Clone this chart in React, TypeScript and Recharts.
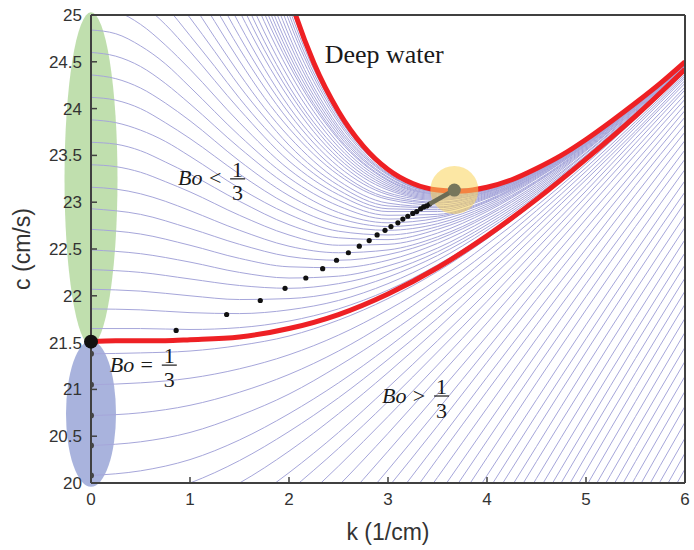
import React from 'react';
import { ComposedChart, Line, Scatter, XAxis, YAxis, ReferenceDot, ReferenceLine, Label } from 'recharts';

const _ = null;

// wavenumber grid shared by the thin dispersion curves (1/cm)
const K = [0, 0.25, 0.5, 0.75, 1, 1.25, 1.5, 1.75, 2, 2.5, 3, 3.5, 4, 4.5, 5, 5.5, 6];

// thin layers, curves coming up through the bottom edge
const SHALLOW = [
  [19.8, _, 19.85, 19.91, 20.0, _, 20.24, _, 20.55, 20.91, 21.32, 21.76, 22.23, 22.73, 23.24, 23.76, 24.3],
  [_, _, _, _, 19.74, _, 20.0, _, 20.34, 20.74, 21.18, 21.65, 22.15, 22.66, 23.18, 23.73, 24.27],
  [_, _, _, _, _, _, 19.73, _, 20.11, 20.54, 21.02, 21.52, 22.04, 22.58, 23.12, 23.68, 24.23],
  [_, _, _, _, _, _, _, _, 19.91, 20.37, 20.87, 21.4, 21.94, 22.5, 23.06, 23.63, 24.2],
  [_, _, _, _, _, _, _, _, 19.68, 20.18, 20.71, 21.26, 21.83, 22.41, 22.99, 23.57, 24.15],
  [_, _, _, _, _, _, _, _, 19.45, 19.97, 20.53, 21.12, 21.71, 22.31, 22.91, 23.51, 24.1],
  [_, _, _, _, _, _, _, _, _, 19.74, 20.34, 20.95, 21.57, 22.2, 22.82, 23.43, 24.04],
  [_, _, _, _, _, _, _, _, _, 19.52, 20.14, 20.78, 21.43, 22.08, 22.72, 23.35, 23.98],
  [_, _, _, _, _, _, _, _, _, 19.31, 19.95, 20.61, 21.29, 21.96, 22.62, 23.27, 23.91],
  [_, _, _, _, _, _, _, _, _, _, 19.74, 20.43, 21.13, 21.82, 22.5, 23.18, 23.83],
  [_, _, _, _, _, _, _, _, _, _, 19.53, 20.26, 20.98, 21.69, 22.39, 23.08, 23.75],
  [_, _, _, _, _, _, _, _, _, _, 19.33, 20.06, 20.8, 21.54, 22.26, 22.97, 23.66],
  [_, _, _, _, _, _, _, _, _, _, _, 19.86, 20.62, 21.38, 22.13, 22.85, 23.56],
  [_, _, _, _, _, _, _, _, _, _, _, 19.67, 20.45, 21.23, 21.99, 22.74, 23.46],
  [_, _, _, _, _, _, _, _, _, _, _, 19.47, 20.27, 21.07, 21.85, 22.61, 23.35],
  [_, _, _, _, _, _, _, _, _, _, _, 19.27, 20.08, 20.89, 21.69, 22.47, 23.23],
  [_, _, _, _, _, _, _, _, _, _, _, _, 19.9, 20.73, 21.54, 22.34, 23.11],
  [_, _, _, _, _, _, _, _, _, _, _, _, 19.73, 20.57, 21.4, 22.21, 23.0],
  [_, _, _, _, _, _, _, _, _, _, _, _, 19.54, 20.39, 21.24, 22.06, 22.86],
  [_, _, _, _, _, _, _, _, _, _, _, _, 19.36, 20.23, 21.08, 21.92, 22.73],
  [_, _, _, _, _, _, _, _, _, _, _, _, 19.17, 20.05, 20.92, 21.77, 22.6],
  [_, _, _, _, _, _, _, _, _, _, _, _, _, 19.88, 20.76, 21.62, 22.46],
  [_, _, _, _, _, _, _, _, _, _, _, _, _, 19.71, 20.6, 21.48, 22.33],
  [_, _, _, _, _, _, _, _, _, _, _, _, _, 19.55, 20.45, 21.33, 22.19],
  [_, _, _, _, _, _, _, _, _, _, _, _, _, 19.38, 20.29, 21.18, 22.05],
  [_, _, _, _, _, _, _, _, _, _, _, _, _, 19.21, 20.13, 21.03, 21.91],
  [_, _, _, _, _, _, _, _, _, _, _, _, _, 19.04, 19.96, 20.87, 21.76],
  [_, _, _, _, _, _, _, _, _, _, _, _, _, _, 19.8, 20.71, 21.61],
  [_, _, _, _, _, _, _, _, _, _, _, _, _, _, 19.63, 20.55, 21.45],
  [_, _, _, _, _, _, _, _, _, _, _, _, _, _, 19.46, 20.39, 21.3],
  [_, _, _, _, _, _, _, _, _, _, _, _, _, _, 19.3, 20.23, 21.14],
  [_, _, _, _, _, _, _, _, _, _, _, _, _, _, 19.12, 20.06, 20.98],
  [_, _, _, _, _, _, _, _, _, _, _, _, _, _, 18.95, 19.89, 20.82],
  [_, _, _, _, _, _, _, _, _, _, _, _, _, _, 18.77, 19.72, 20.65],
  [_, _, _, _, _, _, _, _, _, _, _, _, _, _, 18.6, 19.55, 20.48],
  [_, _, _, _, _, _, _, _, _, _, _, _, _, _, 18.43, 19.38, 20.32],
  [_, _, _, _, _, _, _, _, _, _, _, _, _, _, 18.26, 19.21, 20.15],
];

// Bo > 1/3 curves that start on the c axis
const BO_ABOVE = [
  [21.38, _, 21.39, _, 21.41, _, 21.47, _, 21.57, 21.74, 21.97, 22.26, 22.61, 23.01, 23.45, 23.92, 24.41],
  [21.05, _, 21.07, _, 21.12, _, 21.22, _, 21.37, 21.58, 21.85, 22.17, 22.55, 22.96, 23.41, 23.89, 24.39],
  [20.72, _, 20.75, _, 20.83, _, 20.97, _, 21.16, 21.41, 21.72, 22.08, 22.47, 22.91, 23.37, 23.86, 24.37],
  [20.4, _, 20.44, _, 20.54, _, 20.72, _, 20.95, 21.25, 21.59, 21.97, 22.4, 22.85, 23.33, 23.83, 24.35],
  [20.08, _, 20.13, _, 20.25, _, 20.46, _, 20.74, 21.07, 21.45, 21.87, 22.31, 22.79, 23.28, 23.8, 24.33],
];

// Bo < 1/3 curves that start on the c axis and dip to a minimum
const BO_BELOW = [
  [21.65, _, 21.65, _, 21.64, _, 21.66, _, 21.73, 21.86, 22.06, 22.33, 22.66, 23.05, 23.47, 23.93, 24.42],
  [21.86, _, 21.85, _, 21.82, _, 21.81, _, 21.85, 21.95, 22.13, 22.38, 22.7, 23.07, 23.49, 23.95, 24.43],
  [22.07, _, 22.05, _, 22.0, _, 21.96, _, 21.97, 22.04, 22.2, 22.43, 22.73, 23.09, 23.5, 23.96, 24.44],
  [22.28, _, 22.25, _, 22.18, _, 22.11, _, 22.08, 22.13, 22.26, 22.47, 22.76, 23.11, 23.52, 23.97, 24.45],
  [22.49, _, 22.45, _, 22.36, _, 22.25, _, 22.19, 22.21, 22.32, 22.51, 22.79, 23.13, 23.53, 23.98, 24.45],
  [22.71, _, 22.66, _, 22.54, _, 22.4, _, 22.31, 22.3, 22.38, 22.56, 22.82, 23.15, 23.55, 23.99, 24.46],
  [22.93, _, 22.87, _, 22.72, _, 22.55, _, 22.42, 22.38, 22.44, 22.6, 22.85, 23.17, 23.56, 23.99, 24.46],
  [23.16, 23.14, 23.09, 23.01, 22.91, _, 22.7, _, 22.53, 22.46, 22.49, 22.63, 22.87, 23.19, 23.57, 24.0, 24.47],
  [23.4, 23.38, 23.32, 23.22, 23.11, _, 22.86, _, 22.65, 22.54, 22.55, 22.67, 22.9, 23.21, 23.58, 24.01, 24.47],
  [23.64, 23.62, 23.55, 23.43, 23.3, _, 23.01, _, 22.76, 22.62, 22.6, 22.71, 22.92, 23.22, 23.59, 24.01, 24.48],
  [23.88, 23.85, 23.77, 23.65, 23.49, _, 23.15, _, 22.87, 22.69, 22.65, 22.74, 22.94, 23.23, 23.6, 24.02, 24.48],
  [24.12, 24.09, 24.0, 23.85, 23.68, _, 23.3, _, 22.97, 22.76, 22.7, 22.77, 22.96, 23.25, 23.61, 24.02, 24.48],
  [24.36, 24.32, 24.22, 24.06, 23.87, _, 23.44, _, 23.07, 22.83, 22.74, 22.8, 22.98, 23.26, 23.61, 24.03, 24.48],
  [24.6, 24.56, 24.45, 24.27, 24.05, _, 23.58, _, 23.17, 22.89, 22.78, 22.83, 23.0, 23.27, 23.62, 24.03, 24.49],
  [24.84, 24.8, 24.67, 24.48, 24.23, _, 23.71, _, 23.26, 22.96, 22.82, 22.85, 23.01, 23.28, 23.62, 24.03, 24.49],
];

// deeper layers, curves coming down through the top edge
const DEEPER = [
  [25.08, 25.04, 24.9, 24.68, 24.42, _, 23.85, _, 23.35, 23.02, 22.86, 22.87, 23.02, 23.29, 23.63, 24.04, 24.49],
  [25.34, 25.29, 25.13, 24.9, 24.61, _, 23.99, _, 23.44, 23.08, 22.9, 22.9, 23.04, 23.29, 23.63, 24.04, 24.49],
  [_, _, 25.35, 25.1, 24.78, 24.45, 24.11, 23.8, 23.53, 23.13, 22.93, 22.92, 23.05, 23.3, 23.64, 24.04, 24.49],
  [_, _, _, 25.31, 24.97, 24.61, 24.24, 23.91, 23.61, 23.18, 22.96, 22.94, 23.06, 23.31, 23.64, 24.05, 24.49],
  [_, _, _, 25.52, 25.16, 24.76, 24.37, 24.01, 23.7, 23.23, 22.99, 22.95, 23.07, 23.31, 23.65, 24.05, 24.5],
  [_, _, _, _, 25.36, 24.93, 24.51, 24.12, 23.79, 23.29, 23.03, 22.97, 23.08, 23.32, 23.65, 24.05, 24.5],
  [_, _, _, _, 25.55, 25.09, 24.64, 24.23, 23.87, 23.33, 23.05, 22.99, 23.09, 23.32, 23.65, 24.05, 24.5],
  [_, _, _, _, 25.75, 25.25, 24.77, 24.33, 23.95, 23.38, 23.08, 23.0, 23.1, 23.33, 23.65, 24.05, 24.5],
  [_, _, _, _, 25.94, 25.41, 24.9, 24.43, 24.02, 23.43, 23.1, 23.02, 23.11, 23.33, 23.66, 24.05, 24.5],
  [_, _, _, _, 26.17, 25.59, 25.04, 24.54, 24.11, 23.47, 23.13, 23.03, 23.11, 23.34, 23.66, 24.05, 24.5],
  [_, _, _, _, 26.34, 25.74, 25.16, 24.63, 24.18, 23.51, 23.15, 23.04, 23.12, 23.34, 23.66, 24.05, 24.5],
  [_, _, _, _, 26.54, 25.89, 25.28, 24.72, 24.24, 23.55, 23.17, 23.05, 23.13, 23.34, 23.66, 24.06, 24.5],
  [_, _, _, _, _, 26.07, 25.41, 24.82, 24.32, 23.59, 23.19, 23.06, 23.13, 23.34, 23.66, 24.06, 24.5],
  [_, _, _, _, _, 26.26, 25.56, 24.93, 24.4, 23.63, 23.21, 23.07, 23.14, 23.35, 23.66, 24.06, 24.5],
  [_, _, _, _, _, 26.43, 25.69, 25.02, 24.47, 23.67, 23.23, 23.08, 23.14, 23.35, 23.67, 24.06, 24.5],
  [_, _, _, _, _, 26.57, 25.79, 25.1, 24.52, 23.69, 23.24, 23.09, 23.14, 23.35, 23.67, 24.06, 24.5],
  [_, _, _, _, _, 26.72, 25.9, 25.18, 24.58, 23.72, 23.26, 23.09, 23.15, 23.35, 23.67, 24.06, 24.5],
  [_, _, _, _, _, _, 26.03, 25.27, 24.64, 23.75, 23.27, 23.1, 23.15, 23.35, 23.67, 24.06, 24.5],
  [_, _, _, _, _, _, 26.16, 25.36, 24.71, 23.78, 23.29, 23.11, 23.15, 23.35, 23.67, 24.06, 24.5],
  [_, _, _, _, _, _, 26.32, 25.48, 24.78, 23.81, 23.3, 23.11, 23.15, 23.36, 23.67, 24.06, 24.5],
  [_, _, _, _, _, _, 26.5, 25.59, 24.86, 23.85, 23.31, 23.12, 23.16, 23.36, 23.67, 24.06, 24.5],
  [_, _, _, _, _, _, 26.68, 25.71, 24.94, 23.88, 23.33, 23.12, 23.16, 23.36, 23.67, 24.06, 24.5],
  [_, _, _, _, _, _, 26.88, 25.84, 25.01, 23.91, 23.34, 23.13, 23.16, 23.36, 23.67, 24.06, 24.5],
  [_, _, _, _, _, _, 27.07, 25.95, 25.08, 23.93, 23.34, 23.13, 23.16, 23.36, 23.67, 24.06, 24.5],
  [_, _, _, _, _, _, 27.27, 26.07, 25.15, 23.95, 23.35, 23.13, 23.16, 23.36, 23.67, 24.06, 24.5],
  [_, _, _, _, _, _, 27.46, 26.16, 25.19, 23.96, 23.35, 23.13, 23.16, 23.36, 23.67, 24.06, 24.5],
  [_, _, _, _, _, _, 27.59, 26.22, 25.22, 23.97, 23.35, 23.13, 23.16, 23.36, 23.67, 24.06, 24.5],
];

// red curves
const BO_THIRD = [21.51, 21.52, 21.52, 21.52, 21.53, _, 21.56, _, 21.65, 21.8, 22.02, 22.3, 22.64, 23.03, 23.46, 23.92, 24.42];
const DEEP_K = [1.75, 2, 2.25, 2.5, 2.75, 3, 3.25, 3.5, 3.67, 3.75, 4, 4.25, 4.5, 4.75, 5, 5.25, 5.5, 5.75, 6];
const DEEP_C = [26.23, 25.22, 24.49, 23.97, 23.6, 23.35, 23.2, 23.13, 23.12, 23.12, 23.16, 23.24, 23.36, 23.5, 23.67, 23.86, 24.06, 24.27, 24.5];

// minima of the Bo < 1/3 curves
const MIN_K = [0.86, 1.37, 1.71, 1.96, 2.17, 2.34, 2.48, 2.6, 2.71, 2.81, 2.89, 2.97, 3.03, 3.1, 3.15, 3.2, 3.25, 3.29, 3.33, 3.36, 3.39, 3.42];
const MIN_C = [21.63, 21.8, 21.95, 22.08, 22.19, 22.29, 22.38, 22.46, 22.53, 22.59, 22.65, 22.7, 22.74, 22.78, 22.82, 22.85, 22.88, 22.9, 22.93, 22.95, 22.96, 22.98];
const MIN_PATH_K = [3.42, 3.67];
const MIN_PATH_C = [22.98, 23.13];

// starting speeds of the Bo > 1/3 curves on the axis
const AXIS_DOT_C = [21.38, 21.05, 20.72, 20.4, 20.08];

const X_TICKS = [0, 1, 2, 3, 4, 5, 6];
const Y_TICKS = [20, 20.5, 21, 21.5, 22, 22.5, 23, 23.5, 24, 24.5, 25];

// annotation anchors (k, c)
const TEXT_K = [0.88, 0.19, 2.94];
const TEXT_C = [23.18, 21.19, 20.86];
const TEXT_OP = ['<', '=', '>'];
const DEEP_TEXT = [2.36, 24.49];

const PURPLE = [...SHALLOW, ...BO_ABOVE, ...BO_BELOW, ...DEEPER];

const rows = K.map((k, i) => {
  const r: Record<string, number | null> = { k, bo: BO_THIRD[i] };
  PURPLE.forEach((s, j) => { r['p' + j] = s[i]; });
  return r;
});
const deepRows = DEEP_K.map((k, i) => ({ k, c: DEEP_C[i] }));
const minRows = MIN_K.map((k, i) => ({ k, c: MIN_C[i] }));
const minPath = MIN_PATH_K.map((k, i) => ({ k, c: MIN_PATH_C[i] }));
const axisDots = AXIS_DOT_C.map((c) => ({ k: 0, c }));

const AXIS = '#404040';
const LAVENDER = '#a6a6da';
const RED = '#ee2024';
const SANS = "'Liberation Sans', Arial, sans-serif";

const BoLabel = ({ cx, cy, op }: { cx: number; cy: number; op: string }) => (
  <g fontFamily="'Liberation Serif', 'DejaVu Serif', serif" fontSize={22} fill="#1a1a1a">
    <text x={cx} y={cy} fontStyle="italic">Bo</text>
    <text x={cx + 37} y={cy} textAnchor="middle">{op}</text>
    <line x1={cx + 52} x2={cx + 67} y1={cy - 6.5} y2={cy - 6.5} stroke="#1a1a1a" strokeWidth={1.2} />
    <text x={cx + 59.5} y={cy - 8.5} textAnchor="middle">1</text>
    <text x={cx + 59.5} y={cy + 15} textAnchor="middle">3</text>
  </g>
);

export default function App() {
  return (
    <div style={{ position: 'absolute', left: 0, top: 0, width: 694, height: 550, background: '#fff' }}>
      <ComposedChart width={694} height={550} data={rows} margin={{ top: 14, right: 8, bottom: 0, left: 0 }}>
        <XAxis
          dataKey="k" type="number" domain={[0, 6]} ticks={X_TICKS} allowDataOverflow height={67}
          tickSize={-6} tickMargin={16}
          axisLine={{ stroke: AXIS, strokeWidth: 2 }} tickLine={{ stroke: AXIS, strokeWidth: 1.5 }}
          tick={{ fill: '#333', fontSize: 17, fontFamily: SANS }}
        >
          <Label value="k (1/cm)" position="insideBottom" offset={10}
            style={{ fill: '#333', fontSize: 23, fontFamily: SANS }} />
        </XAxis>
        <XAxis xAxisId="top" dataKey="k" orientation="top" type="number" domain={[0, 6]} ticks={X_TICKS} allowDataOverflow height={1}
          tickSize={-6} tick={false} axisLine={{ stroke: AXIS, strokeWidth: 2 }} tickLine={{ stroke: AXIS, strokeWidth: 1.5 }} />
        <YAxis
          type="number" domain={[20, 25]} ticks={Y_TICKS} allowDataOverflow width={91}
          tickSize={-6} tickMargin={15}
          axisLine={{ stroke: AXIS, strokeWidth: 2 }} tickLine={{ stroke: AXIS, strokeWidth: 1.5 }}
          tick={{ fill: '#333', fontSize: 17, fontFamily: SANS }}
        >
          <Label value="c (cm/s)" angle={-90} position="center" dx={-24}
            style={{ fill: '#333', fontSize: 23, fontFamily: SANS, textAnchor: 'middle' }} />
        </YAxis>
        <YAxis yAxisId="right" orientation="right" type="number" domain={[20, 25]} ticks={Y_TICKS} allowDataOverflow width={1}
          tickSize={-6} tick={false} axisLine={{ stroke: AXIS, strokeWidth: 2 }} tickLine={{ stroke: AXIS, strokeWidth: 1.5 }} />

        <ReferenceDot x={0} y={23.25} ifOverflow="visible" r={1} zIndex={-10}
          shape={(p: any) => <ellipse cx={p.cx} cy={p.cy} rx={26.5} ry={166.5} fill="#8cc56c" fillOpacity={0.55} />} />
        <ReferenceDot x={0} y={20.74} ifOverflow="visible" r={1} zIndex={-10}
          shape={(p: any) => <ellipse cx={p.cx} cy={p.cy} rx={25} ry={73} fill="#6f80c6" fillOpacity={0.6} />} />

        {/* keeps the mirrored box axes (top / right) bound to a series */}
        <Line xAxisId="top" yAxisId="right" dataKey="bo" stroke="none" strokeWidth={0} dot={false} activeDot={false}
          connectNulls isAnimationActive={false} legendType="none" />

        {PURPLE.map((_s, j) => (
          <Line key={'p' + j} dataKey={'p' + j} type="monotone" stroke={LAVENDER} strokeWidth={1}
            dot={false} activeDot={false} connectNulls isAnimationActive={false} />
        ))}

        <Line dataKey="bo" type="monotone" stroke={RED} strokeWidth={5} dot={false} activeDot={false}
          connectNulls isAnimationActive={false} />
        <Line data={deepRows} dataKey="c" type="monotone" stroke={RED} strokeWidth={5} dot={false} activeDot={false}
          isAnimationActive={false} />

        <ReferenceLine x={0} stroke={AXIS} strokeWidth={2} ifOverflow="visible" />

        <Scatter data={minRows} dataKey="c" isAnimationActive={false}
          shape={(p: any) => <circle cx={p.cx} cy={p.cy} r={2.6} fill="#111" />} />
        <Scatter data={axisDots} dataKey="c" isAnimationActive={false} zIndex={700}
          shape={(p: any) => <circle cx={p.cx} cy={p.cy} r={3} fill="#444" />} />

        <ReferenceDot x={MIN_PATH_K[1]} y={MIN_PATH_C[1]} r={24} fill="rgb(250,212,90)" fillOpacity={0.55} stroke="none" ifOverflow="visible" />
        <Line data={minPath} dataKey="c" type="linear" stroke="#6b6b55" strokeWidth={4.5} dot={false} activeDot={false}
          isAnimationActive={false} zIndex={650} />
        <ReferenceDot x={MIN_PATH_K[1]} y={MIN_PATH_C[1]} r={6.5} fill="#76765c" stroke="none" ifOverflow="visible" zIndex={700} />
        <ReferenceDot x={0} y={BO_THIRD[0]} r={7} fill="#111" stroke="none" ifOverflow="visible" zIndex={700} />

        {TEXT_K.map((k, i) => (
          <ReferenceDot key={'t' + i} x={k} y={TEXT_C[i]} r={1} ifOverflow="visible"
            shape={(p: any) => <BoLabel cx={p.cx} cy={p.cy} op={TEXT_OP[i]} />} />
        ))}
        <ReferenceDot x={DEEP_TEXT[0]} y={DEEP_TEXT[1]} r={1} ifOverflow="visible"
          shape={(p: any) => (
            <text x={p.cx} y={p.cy} fontFamily="'Liberation Serif', serif" fontSize={26} fill="#1a1a1a">Deep water</text>
          )} />
      </ComposedChart>
    </div>
  );
}
